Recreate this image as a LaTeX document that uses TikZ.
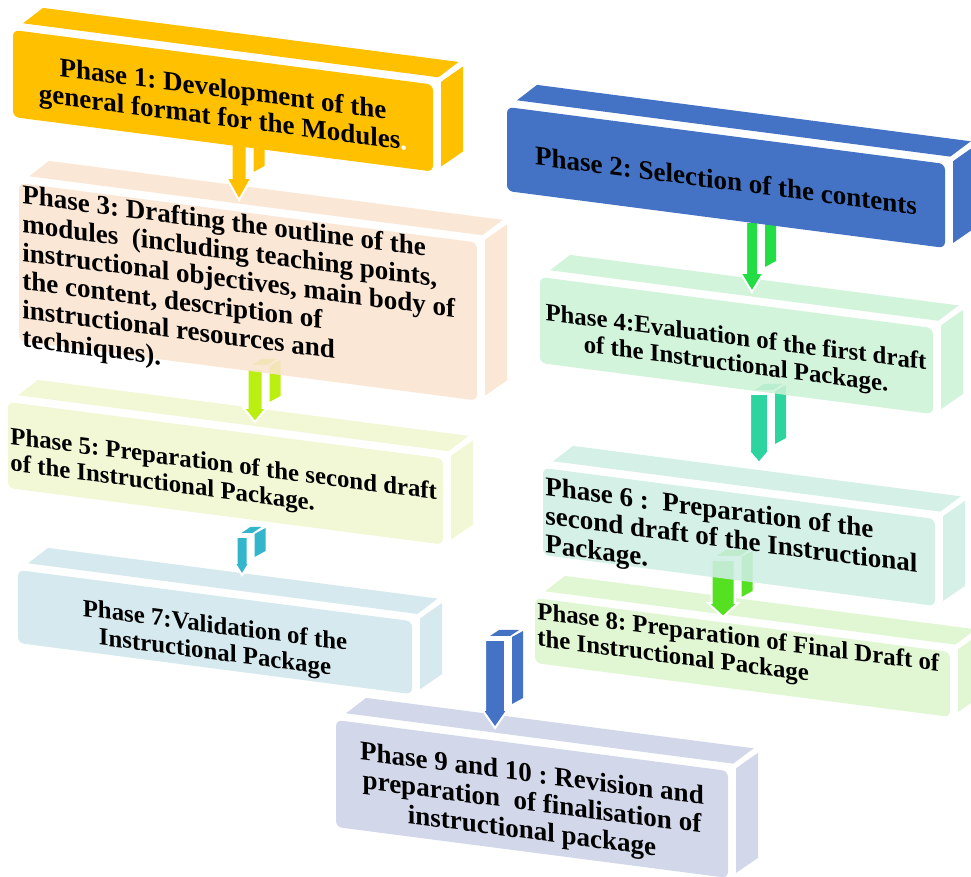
\documentclass[tikz,border=0pt]{standalone}
\usepackage{fontspec}
\setmainfont{Liberation Serif}
\usetikzlibrary{calc}
\definecolor{phaseone}{HTML}{FFC000}
\definecolor{phasetwo}{HTML}{4472C4}
\definecolor{phasethree}{HTML}{FBE4CF}
\definecolor{phasefour}{HTML}{CCF2D6}
\definecolor{phasefive}{HTML}{F0F7D0}
\definecolor{phasesix}{HTML}{CEEEE4}
\definecolor{phaseseven}{HTML}{D0E6EC}
\definecolor{phaseeight}{HTML}{DDF6CD}
\definecolor{phasenine}{HTML}{D3D7EA}
\definecolor{arrowgreen}{HTML}{22DD44}
\definecolor{arrowlime}{HTML}{BBEE11}
\definecolor{arrowteal}{HTML}{2DD4A0}
\definecolor{arrowcyan}{HTML}{33B5CC}
\definecolor{arrowleaf}{HTML}{55E022}
\newcommand*{\skw}{-0.13}
\tikzset{
  phasetext/.style={inner sep=0pt, transform shape, text=black},
  smalltext/.style={font=\bfseries\fontsize{12.4}{13.4}\selectfont},
  arrowedge/.style={draw=white, line width=1pt},
  seethru/.style={fill opacity=0.88}
}
% box: name, origin, width, height, fill, node options, text
\newcommand{\phasebox}[7]{%
  \begin{scope}[shift={#2}, yslant=\skw]
    \fill[#5] (10,-8) -- (#3+10,-8) -- (#3+30,-26) -- (30,-26) -- cycle;
    \fill[#5] (#3+8,-4) -- (#3+8,#4-6) -- (#3+30,#4-24) -- (#3+30,-22) -- cycle;
    \draw[white, line width=2.5pt] (#3,0) -- (#3+34,-30);
    \fill[#5, rounded corners=3pt] (0,0) rectangle (#3,#4);
    \node[phasetext, #6] (#1) {#7};
  \end{scope}}
% arrow: top, tip, shaft half, head half, head length, colour
\newcommand{\phasearrow}[6]{%
  \fill[#6] ($(#1)+(#3+7,-3)$) -- ($(#1)+(#3+18,-9)$) -- ($(#2)+(#3+18,-#5-12)$) -- ($(#2)+(#3+7,-#5-6)$) -- cycle;
  \filldraw[#6, arrowedge] ($(#1)+(-#3,0)$) -- ($(#1)+(#3,0)$) -- ($(#2)+(#3,-#5)$) -- ($(#2)+(#4,-#5)$)
    -- (#2) -- ($(#2)+(-#4,-#5)$) -- ($(#2)+(-#3,-#5)$) -- cycle;}
\newcommand{\arrowcap}[3]{%
  \fill[#3] ($(#1)+(-#2+5,-4)$) -- ($(#1)+(#2+5,-4)$) -- ($(#1)+(#2+14,-10)$) -- ($(#1)+(-#2+14,-10)$) -- cycle;}

\begin{document}
\frenchspacing
\begin{tikzpicture}[x=0.5pt, y=-0.5pt, font=\bfseries\fontsize{13.5}{14.3}\selectfont]
    \useasboundingbox (0,0) rectangle (971,877);
    % arrow ends
    \coordinate (a13) at (239,140); \coordinate (b13) at (239,200);
    \coordinate (a24) at (752,222); \coordinate (b24) at (752,292);
    \coordinate (a35) at (255,369); \coordinate (b35) at (255,422);
    \coordinate (a46) at (759,394); \coordinate (b46) at (759,463);
    \coordinate (a57) at (242,537); \coordinate (b57) at (242,575);
    \coordinate (a68) at (723,560); \coordinate (b68) at (723,617);
    \coordinate (a89) at (495,640); \coordinate (b89) at (495,728);
    % left column
    \phasebox{p9}{(336,720)}{392}{107}{phasenine}{at={(196,59)}, align=center}
      {Phase 9 and 10 : Revision and\\preparation\ \ of finalisation of\\instructional package}
    \arrowcap{a89}{10}{phasetwo}
    \phasearrow{a89}{b89}{10}{12.5}{18}{phasetwo}
    \phasebox{p7}{(18,570)}{394}{73}{phaseseven, seethru}{smalltext, at={(197,45)}, align=center}
      {Phase 7:Validation of the\\Instructional Package}
    \arrowcap{a57}{5.5}{arrowcyan}
    \phasearrow{a57}{b57}{5.5}{7.5}{12}{arrowcyan}
    \phasebox{p5}{(8,402)}{435}{86}{phasefive, seethru}{smalltext, anchor=north west, at={(2,24)}, align=left}
      {Phase 5: Preparation of the second draft\\of the Instructional Package.}
    \arrowcap{a35}{7.5}{arrowlime}
    \phasearrow{a35}{b35}{7.5}{11.5}{14}{arrowlime}
    \phasebox{p3}{(19,183)}{458}{158}{phasethree, seethru}{anchor=north west, at={(3,1)}, align=left}
      {Phase 3: Drafting the outline of the\\modules\ \ (including teaching points,\\instructional objectives, main body of\\the content, description of\\instructional resources and\\techniques).}
    \phasearrow{a13}{b13}{7.5}{12.5}{22}{phaseone}
    \phasebox{p1}{(13,30)}{420}{87}{phaseone}{at={(210,48)}, align=center}
      {Phase 1: Development of the\\general format for the Modules\textcolor{white}{.}}
    % right column
    \phasebox{p8}{(535,598)}{415}{65}{phaseeight, seethru}{smalltext, anchor=north west, at={(2,3)}, align=left}
      {Phase 8: Preparation of Final Draft of\\the Instructional Package}
    \arrowcap{a68}{11.5}{arrowleaf}
    \phasearrow{a68}{b68}{11.5}{15}{14}{arrowleaf}
    \phasebox{p6}{(543,468)}{392}{87}{phasesix, seethru}{anchor=north west, at={(2,8)}, align=left}
      {Phase 6 :\ \ Preparation of the\\second draft of the Instructional\\Package.}
    \arrowcap{a46}{9}{arrowteal}
    \phasearrow{a46}{b46}{9}{11}{13}{arrowteal}
    \phasebox{p4}{(540,277)}{393}{86}{phasefour, seethru}{smalltext, at={(196,50)}, align=center}
      {Phase 4:Evaluation of the first draft\\of the Instructional Package.}
    \phasearrow{a24}{b24}{6}{11.5}{19}{arrowgreen}
    \phasebox{p2}{(507,107)}{438}{84}{phasetwo}{at={(219,45)}, align=center}
      {Phase 2: Selection of the contents}
    %\draw[red] (0,0) rectangle (971,877);
\end{tikzpicture}
\end{document}
